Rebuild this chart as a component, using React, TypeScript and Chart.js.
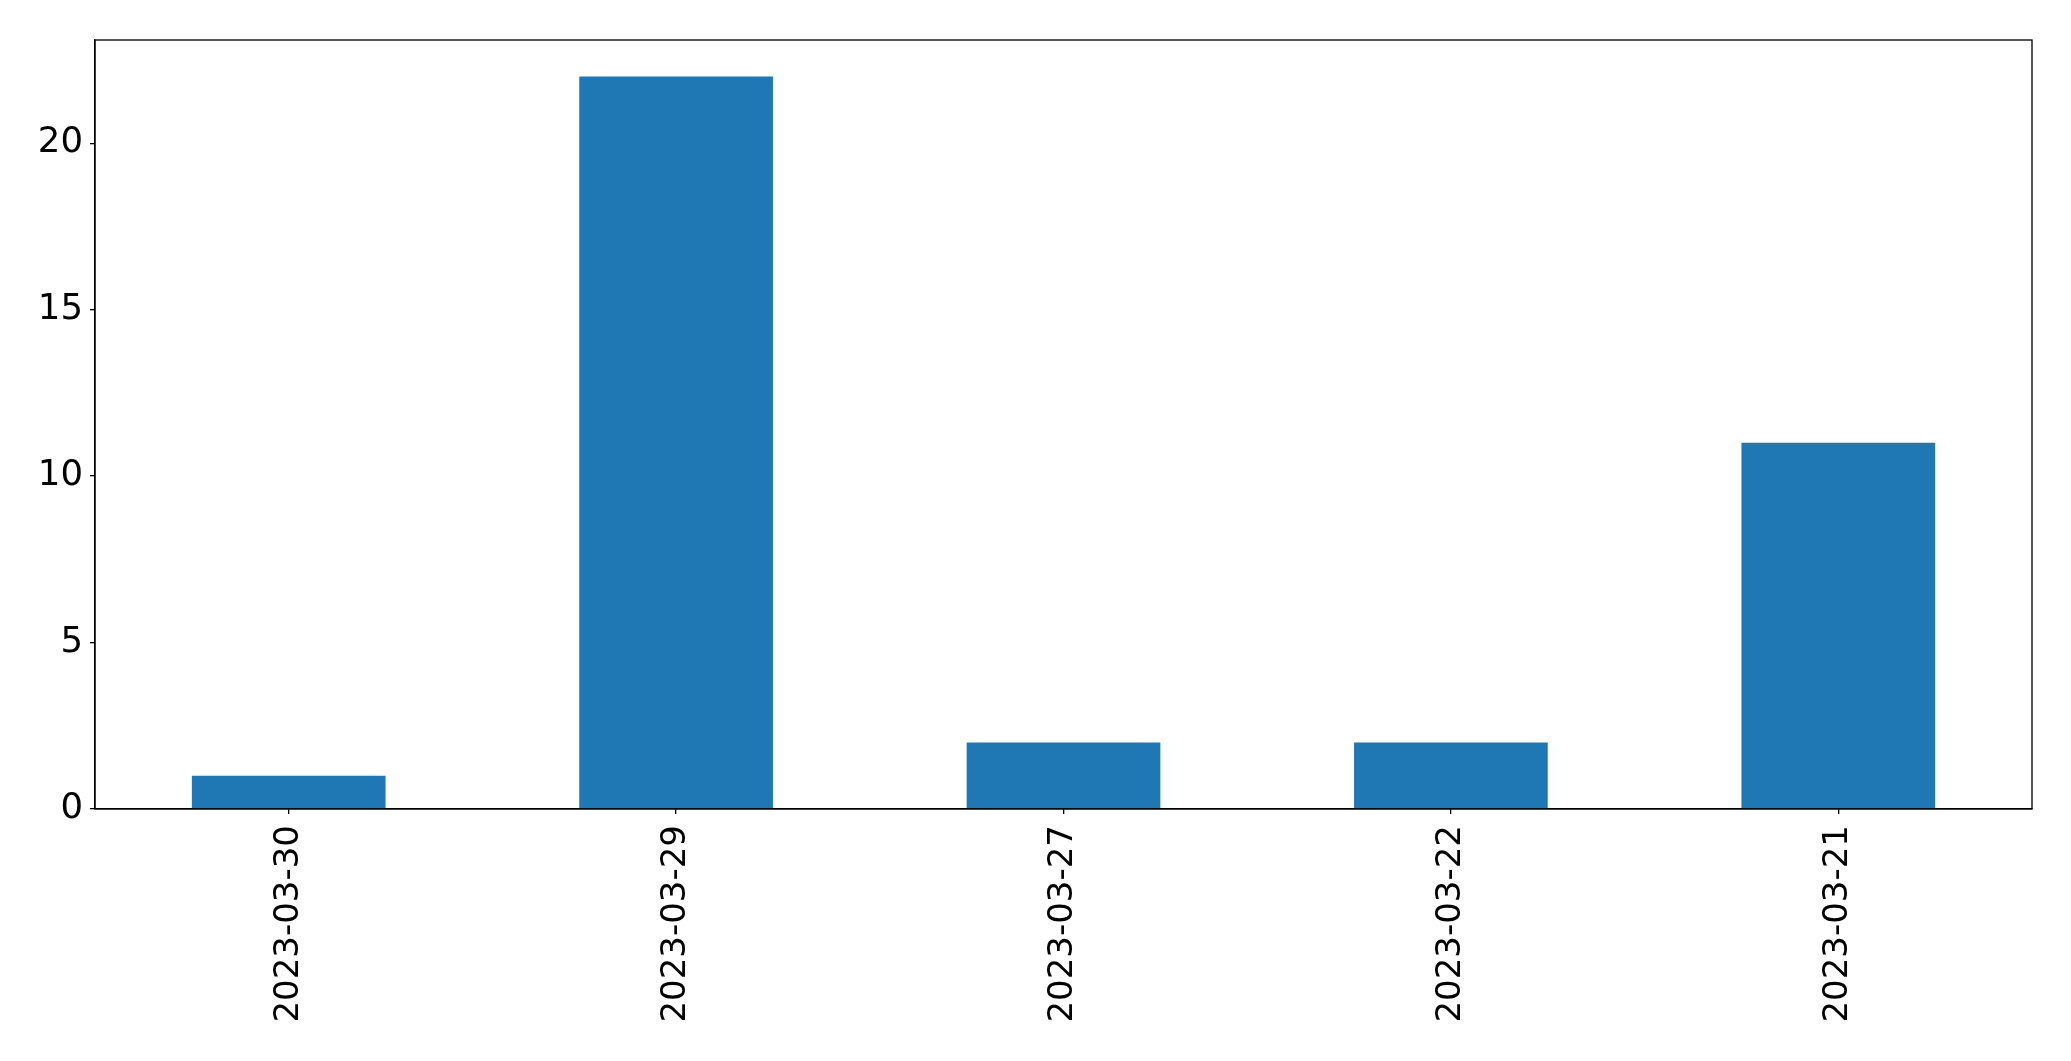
import React, { useEffect, useRef } from "react";
import { Chart, registerables } from "chart.js";

Chart.register(...registerables);

const categories: string[] = ["2023-03-30", "2023-03-29", "2023-03-27", "2023-03-22", "2023-03-21"];
const counts: number[] = [1, 22, 2, 2, 11];
const yTicks: number[] = [0, 5, 10, 15, 20];
const yMax = 23.1;

const W = 2071;
const H = 1061;

const framePlugin = {
  id: "frame",
  afterDraw(chart: any) {
    const { ctx, chartArea } = chart;
    ctx.save();
    ctx.strokeStyle = "#000";
    ctx.lineWidth = 1.3;
    ctx.strokeRect(chartArea.left, chartArea.top, chartArea.right - chartArea.left, chartArea.bottom - chartArea.top);
    ctx.restore();
  },
};

export default function App() {
  const ref = useRef<HTMLCanvasElement | null>(null);
  useEffect(() => {
    if (!ref.current) return;
    const chart = new Chart(ref.current, {
      type: "bar",
      data: {
        labels: categories,
        datasets: [
          {
            data: counts,
            backgroundColor: "#1f77b4",
            borderWidth: 0,
            barPercentage: 0.5,
            categoryPercentage: 1,
          },
        ],
      },
      options: {
        animation: false,
        responsive: false,
        maintainAspectRatio: false,
        devicePixelRatio: 1,
        layout: { padding: { left: 0, top: 40, right: 39, bottom: 0 } },
        plugins: { legend: { display: false }, tooltip: { enabled: false } },
        scales: {
          x: {
            type: "category",
            offset: true,
            grid: { display: true, offset: false, drawOnChartArea: false, drawTicks: true, tickLength: 5, color: "#000", lineWidth: 1.3 },
            border: { display: true, color: "#000", width: 1.3 },
            ticks: {
              color: "#000",
              font: { family: "'DejaVu Sans'", size: 34 },
              minRotation: 90,
              maxRotation: 90,
              padding: 11,
              autoSkip: false,
            },
            afterFit(scale: any) {
              scale.height = H - 809;
            },
          },
          y: {
            min: 0,
            max: yMax,
            grid: { display: true, drawOnChartArea: false, drawTicks: true, tickLength: 5, color: "#000", lineWidth: 1.3 },
            border: { display: true, color: "#000", width: 1.3 },
            ticks: {
              color: "#000",
              font: { family: "'DejaVu Sans'", size: 35.5 },
              padding: 7,
            },
            afterBuildTicks(scale: any) {
              scale.ticks = yTicks.map((v) => ({ value: v }));
            },
            afterFit(scale: any) {
              scale.width = 95;
            },
          },
        },
      },
      plugins: [framePlugin],
    });
    return () => chart.destroy();
  }, []);
  return (
    <div style={{ position: "fixed", left: 0, top: 0, width: W, height: H, background: "#fff" }}>
      <canvas ref={ref} width={W} height={H} style={{ width: W, height: H, display: "block" }} />
    </div>
  );
}
